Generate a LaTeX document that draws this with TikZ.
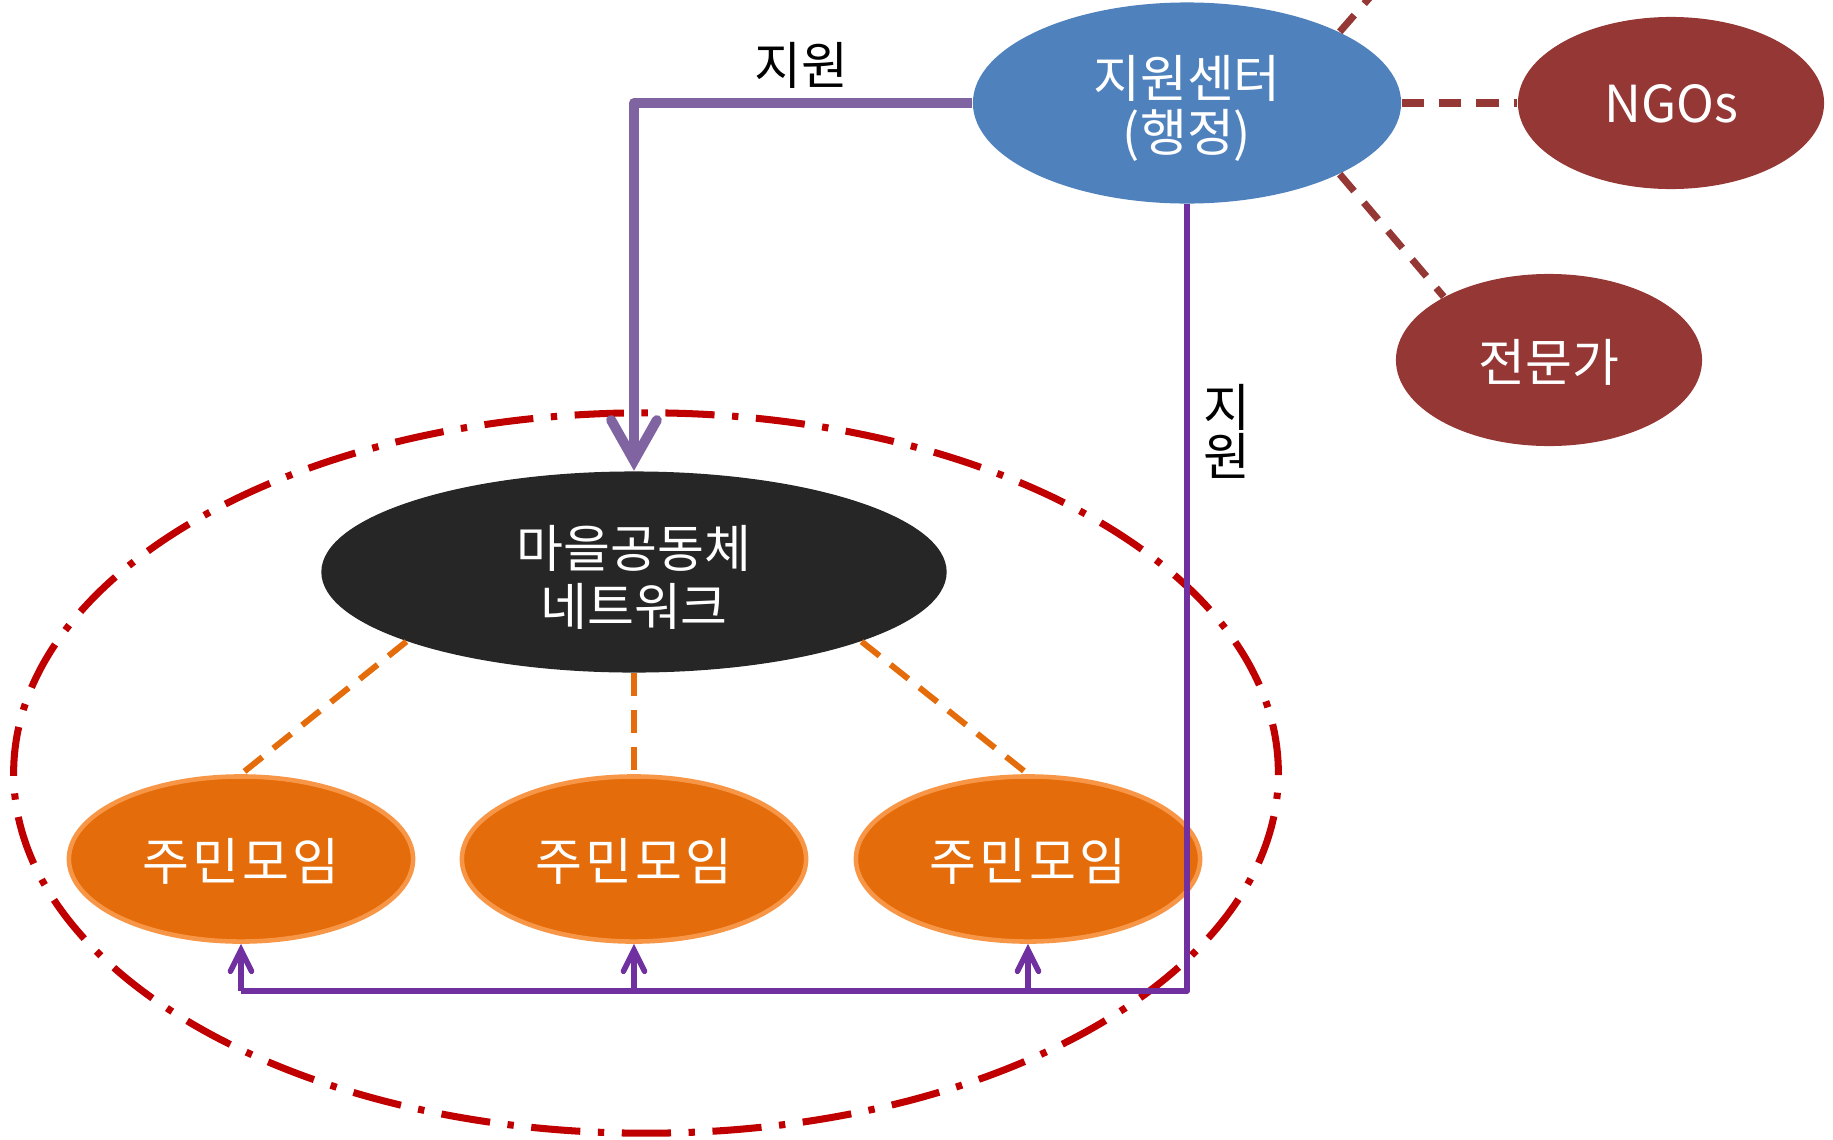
\documentclass[tikz,border=0pt]{standalone}
\usepackage{fontspec}
\setmainfont{Noto Sans CJK KR}
\usetikzlibrary{shapes.geometric,arrows.meta}
\definecolor{hqblue}{HTML}{4F81BD}
\definecolor{partnerred}{HTML}{953735}
\definecolor{netblack}{HTML}{262626}
\definecolor{meetorange}{HTML}{E46C0A}
\definecolor{meetedge}{HTML}{F79646}
\definecolor{boundred}{HTML}{C00000}
\definecolor{bigpurple}{HTML}{8064A2}
\definecolor{thinpurple}{HTML}{7030A0}

\begin{document}
\begin{tikzpicture}[x=0.01cm,y=-0.01cm,
        font=\fontsize{14.5}{15.2}\selectfont,
        every node/.style={ellipse,inner sep=0pt,text=white,align=center},
        supportnode/.style={fill=hqblue,minimum width=4.28cm,minimum height=2.01cm},
        partner/.style={fill=partnerred,minimum width=3.06cm,minimum height=1.72cm,text depth=0pt},
        network/.style={fill=netblack,minimum width=6.25cm,minimum height=2.01cm,
                        font=\fontsize{14.5}{16.5}\selectfont},
        meeting/.style={fill=meetorange,draw=meetedge,line width=1.3pt,minimum width=3.44cm,minimum height=1.65cm,
                        text depth=0pt,font=\fontsize{14.5}{15.2}\selectfont\addfontfeature{LetterSpace=6}},
        boundary/.style={draw=boundred,line width=2pt,dash pattern=on 14pt off 5pt on 1.8pt off 5pt,
                         minimum width=12.64cm,minimum height=7.2cm},
        linkdash/.style={draw=partnerred,line width=2pt,dash pattern=on 6.3pt off 4.3pt},
        meetdash/.style={draw=meetorange,line width=1.7pt,dash pattern=on 6.5pt off 4pt},
        bigsupport/.style={draw=bigpurple,line width=2.85pt,line join=round,
                           -{Straight Barb[length=11.5pt,width=13pt,line cap=round]}},
        support/.style={draw=thinpurple,line width=1.6pt,line join=round}]

    \useasboundingbox (0,0) rectangle (1833,1139);

    \node[boundary] (zone) at (646,773) {};

    \node[supportnode] (hq) at (1187,103) {\rule{0pt}{15pt}지원센터\\(행정)};
    \node[partner] (ngo) at (1671,103) {NGOs};
    \node[partner] (expert) at (1549,360) {전문가};
    \node[network] (net) at (634,572) {\rule{0pt}{15pt}마을공동체\\네트워크};
    \node[meeting] (m1) at (241,859) {주민모임};
    \node[meeting] (m2) at (634,859) {주민모임};
    \node[meeting] (m3) at (1028,859) {주민모임};

    \node[text=black,text depth=0pt] (toplabel) at (801,63) {지원};
    \node[text=black] (sidelabel) at (1227,428) {\rule{0pt}{14pt}지\\[-1.2pt]원};

    % links to partners
    \coordinate (offpage) at (1378,-12);
    \draw[linkdash] (hq) -- (ngo);
    \draw[linkdash] (hq.-25) -- (expert.149);
    \draw[linkdash] (hq.25) -- (offpage);

    \draw[meetdash] (net.197.5) -- (m1.north);
    \draw[meetdash] (net.south) -- (m2.north);
    \draw[meetdash] (net.-17.5) -- (m3.north);

    % support from the centre
    \coordinate (bus) at (0,991);
    \draw[support] (hq.south) |- (m1.south |- bus);
    \foreach \i in {1,2,3}
        \draw[support,-{Straight Barb[length=6pt,width=6pt,line cap=round]}] (m\i.south |- bus) -- (m\i.south);
    \draw[bigsupport] (hq.west) -| (net.north);
\end{tikzpicture}
\end{document}
